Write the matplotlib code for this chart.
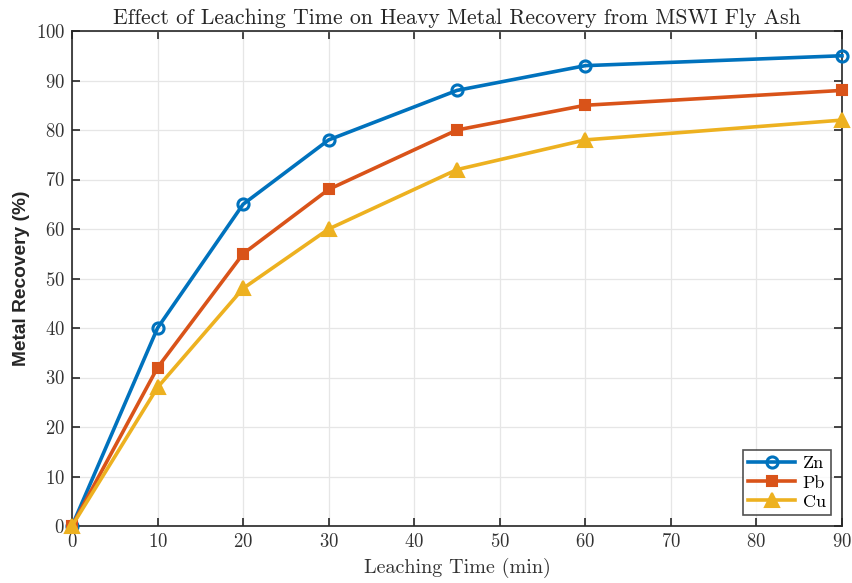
import matplotlib
matplotlib.use("Agg")
import matplotlib.pyplot as plt

time_min = [0, 10, 20, 30, 45, 60, 90]
zn = [0, 40, 65, 78, 88, 93, 95]
pb = [0, 32, 55, 68, 80, 85, 88]
cu = [0, 28, 48, 60, 72, 78, 82]
xticks = [0, 10, 20, 30, 40, 50, 60, 70, 80, 90]
yticks = [0, 10, 20, 30, 40, 50, 60, 70, 80, 90, 100]

plt.rcParams['axes.formatter.use_mathtext'] = True
serif = ['cmr10', 'DejaVu Serif']

fig = plt.figure(figsize=(8.52, 5.83), dpi=100)
ax = fig.add_axes([72/852, 1-526/583, (842-72)/852, (526-31)/583])

ax.plot(time_min, zn, color='#0072BD', lw=2.6, marker='o', ms=8, mfc='none', mew=2.2, label='Zn', clip_on=False, zorder=3)
ax.plot(time_min, pb, color='#D95319', lw=2.6, marker='s', ms=7, mfc='#D95319', mew=1.5, label='Pb', clip_on=False, zorder=3)
ax.plot(time_min, cu, color='#EDB120', lw=2.6, marker='^', ms=10, mfc='#EDB120', mew=1.5, label='Cu', clip_on=False, zorder=3)

ax.set_xlim(0, 90)
ax.set_ylim(0, 100)
ax.set_xticks(xticks)
ax.set_yticks(yticks)
ax.grid(True, color='#e6e6e6', lw=0.9)
ax.set_axisbelow(True)
for s in ax.spines.values():
    s.set_color('#262626')
    s.set_linewidth(1.2)
ax.tick_params(direction='in', length=6, width=1.2, color='#262626', labelsize=13.5, labelcolor='#333333',
               top=True, right=True, pad=5)
for lab in ax.get_xticklabels() + ax.get_yticklabels():
    lab.set_fontfamily(serif)

ax.set_title('Effect of Leaching Time on Heavy Metal Recovery from MSWI Fly Ash', family=serif, fontsize=15.7, color='#262626', pad=5)
ax.set_xlabel('Leaching Time (min)', family=serif, fontsize=14.5, color='#333333', labelpad=5)
ax.set_ylabel('Metal Recovery (%)', family='Liberation Sans', fontweight='bold', fontsize=13.8, color='#262626', labelpad=4)

leg = ax.legend(loc='lower right', prop={'family': serif, 'size': 13}, frameon=True, fancybox=False,
                edgecolor='#262626', handlelength=2.6, borderpad=0.3, labelspacing=0.2, handletextpad=0.4,
                borderaxespad=0.6)
leg.get_frame().set_linewidth(1.2)

fig.savefig('out.png', dpi=100)
